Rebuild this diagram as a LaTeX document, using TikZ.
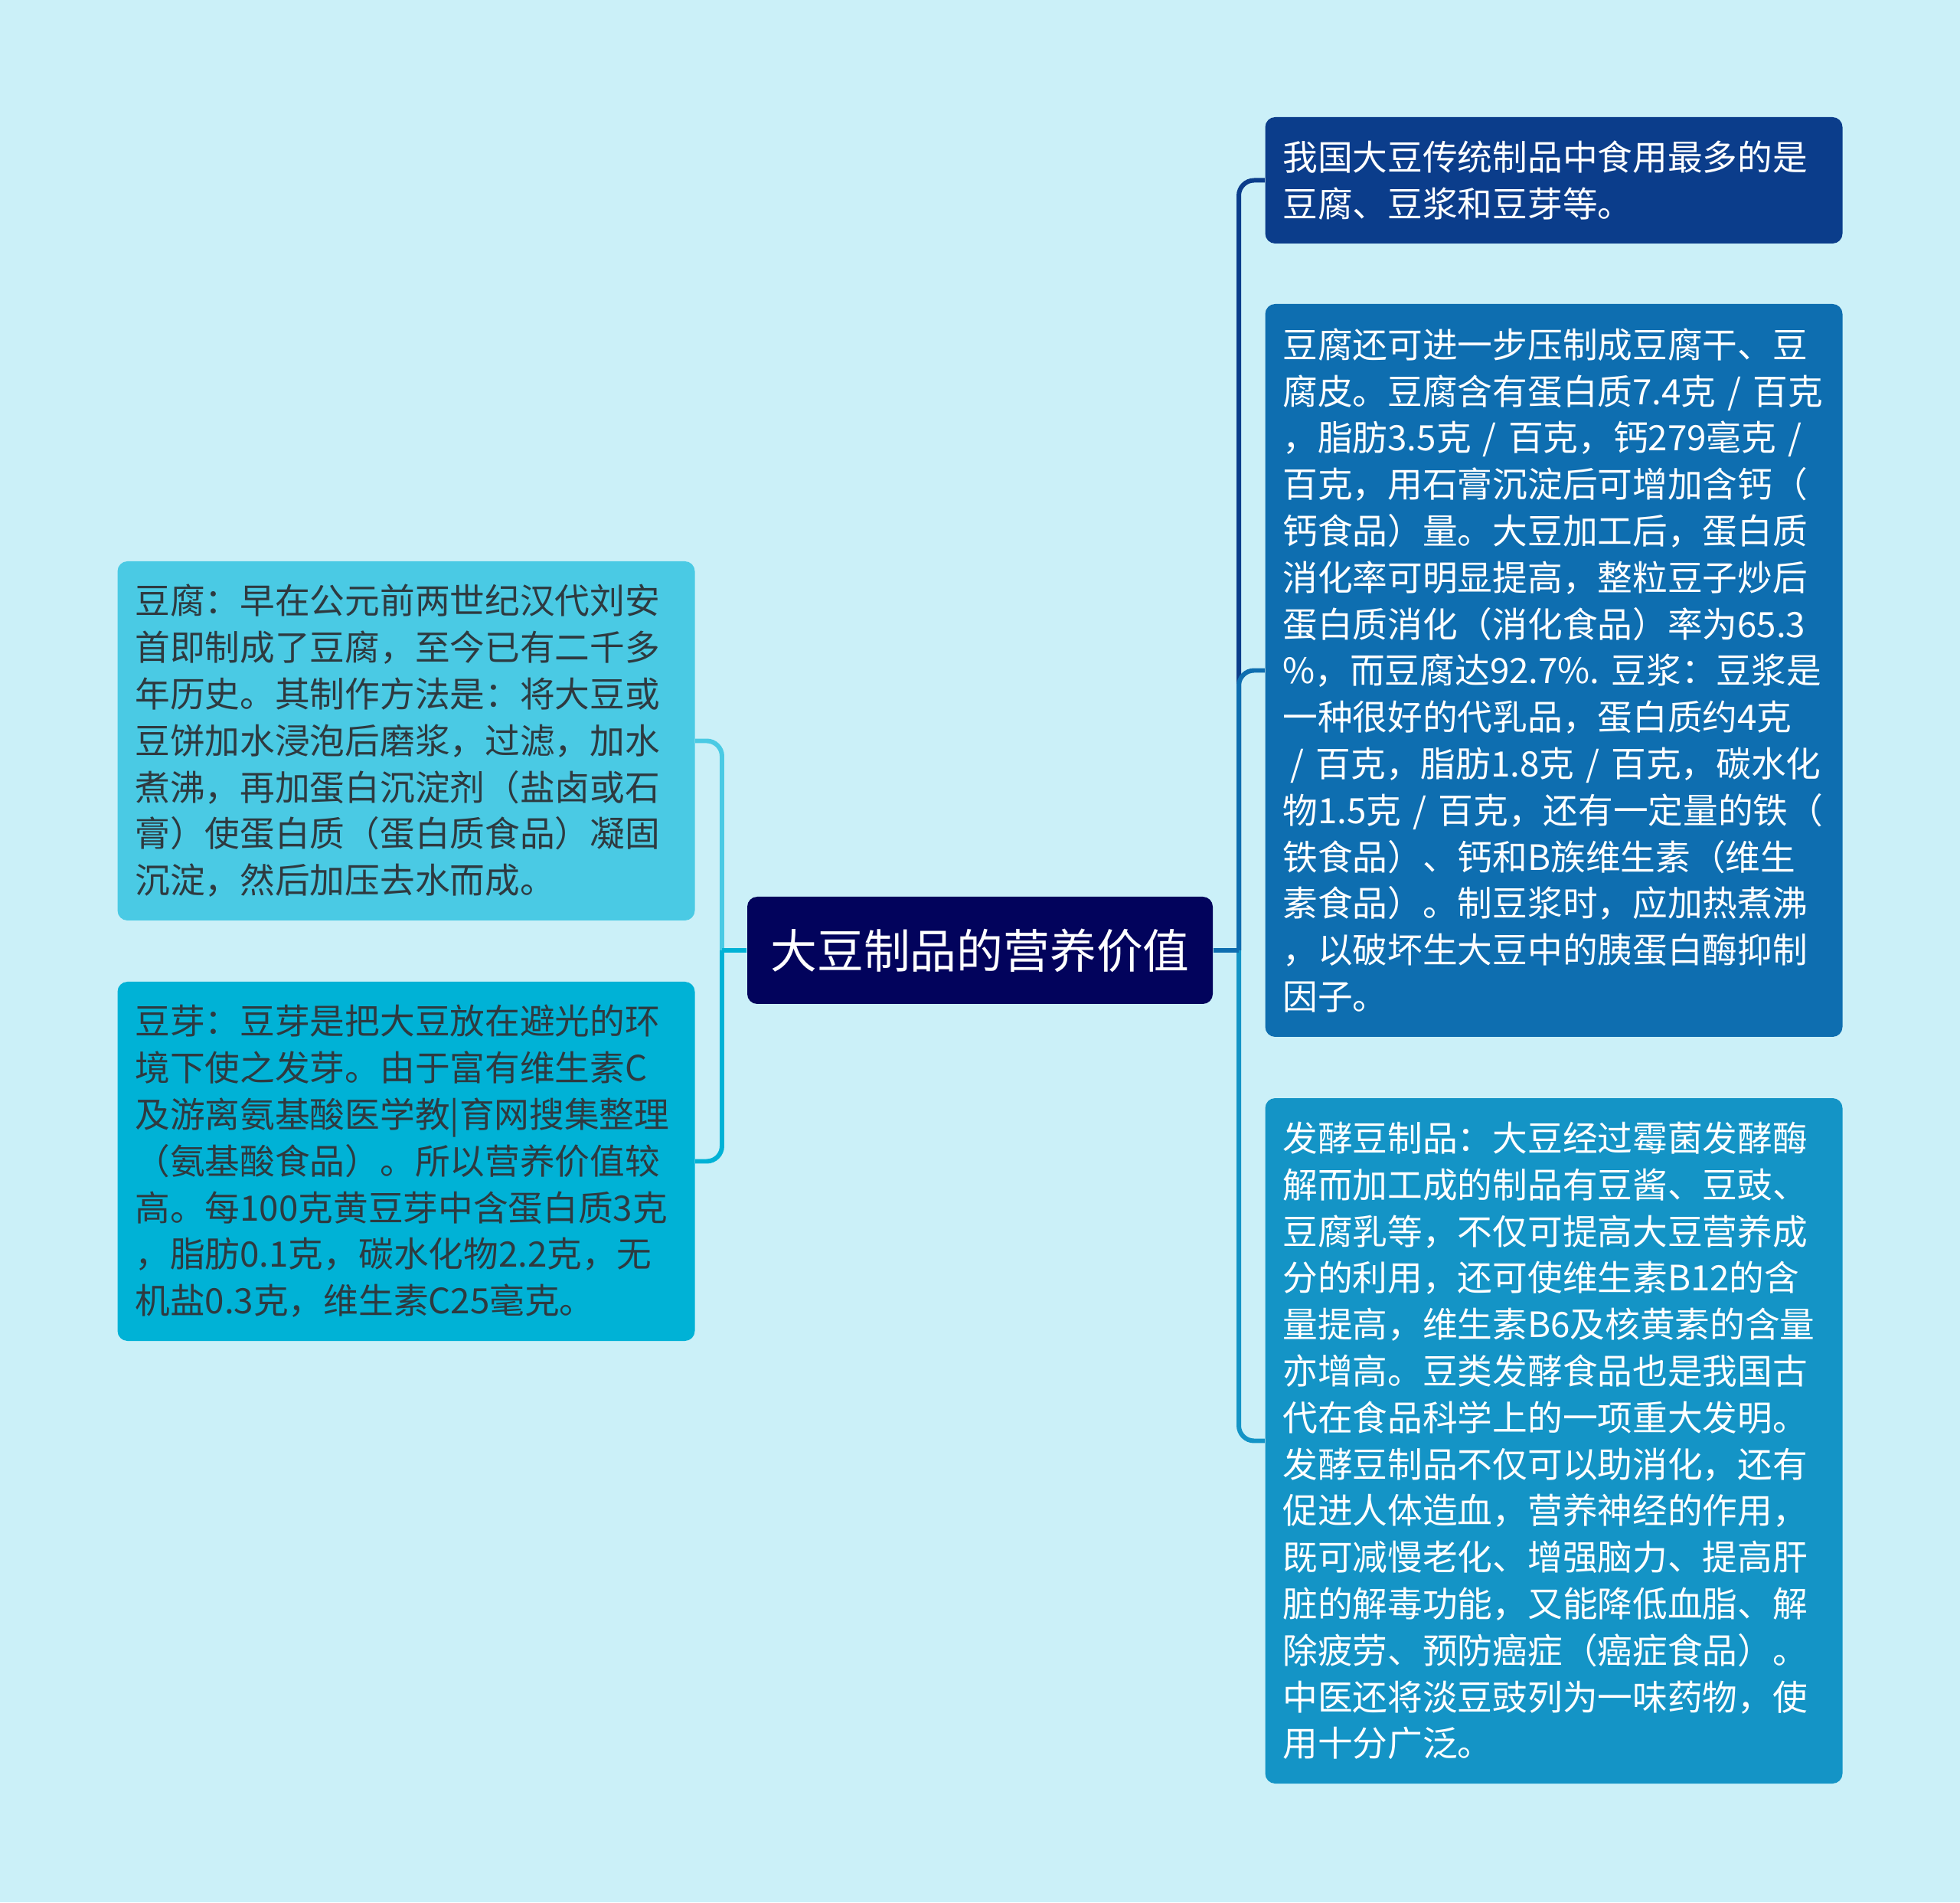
\documentclass[tikz,border=0pt]{standalone}
\usepackage{fontspec}
\setmainfont{Noto Sans CJK SC}
\usepackage{tikz}
\definecolor{bgcol}{HTML}{CBF0F8}
\definecolor{rootcol}{HTML}{02035C}
\definecolor{r1col}{HTML}{0B3D8B}
\definecolor{r2col}{HTML}{0E6EB0}
\definecolor{r3col}{HTML}{1494C6}
\definecolor{l1col}{HTML}{4ACAE4}
\definecolor{l2col}{HTML}{00B2D6}
\definecolor{darktext}{HTML}{2E3A40}

\begin{document}
\begin{tikzpicture}[scale=1,
  box/.style={rounded corners=0.13cm, inner xsep=0.23cm, inner ysep=0cm,
    text width=7.08cm, align=left, font=\fontsize{13pt}{17.3pt}\selectfont},
  conn/.style={line width=1.7pt}]
% 背景
\fill [bgcol] (0,0) rectangle (25.6,24.84);
% 中心
\node [fill=rootcol, text=white, rounded corners=0.13cm, minimum width=6.08cm,
  minimum height=1.4cm, inner sep=0, font=\fontsize{17.3pt}{20pt}\selectfont]
  (root) at (12.80,12.43) {大豆制品的营养价值};
% 右侧
\node [box, fill=r1col, text=white, minimum height=1.65cm] (r1) at (20.295,22.485)
  {我国大豆传统制品中食用最多的是\\豆腐、豆浆和豆芽等。};
\node [box, fill=r2col, text=white, minimum height=9.57cm] (r2) at (20.295,16.085)
  {豆腐还可进一步压制成豆腐干、豆\\
   腐皮。豆腐含有蛋白质7.4克~/~百克\\
   ，脂肪3.5克~/~百克，钙279毫克~/\\
   百克，用石膏沉淀后可增加含钙（\\
   钙食品）量。大豆加工后，蛋白质\\
   消化率可明显提高，整粒豆子炒后\\
   蛋白质消化（消化食品）率为65.3\\
   \%，而豆腐达92.7\%.~豆浆：豆浆是\\
   一种很好的代乳品，蛋白质约4克\\
   \hspace*{0.1cm}/~百克，脂肪1.8克~/~百克，碳水化\\
   物1.5克~/~百克，还有一定量的铁（\\
   铁食品）、钙和B族维生素（维生\\
   素食品）。制豆浆时，应加热煮沸\\
   ，以破坏生大豆中的胰蛋白酶抑制\\
   因子。};
\node [box, fill=r3col, text=white, minimum height=8.95cm] (r3) at (20.295,6.025)
  {发酵豆制品：大豆经过霉菌发酵酶\\
   解而加工成的制品有豆酱、豆豉、\\
   豆腐乳等，不仅可提高大豆营养成\\
   分的利用，还可使维生素B12的含\\
   量提高，维生素B6及核黄素的含量\\
   亦增高。豆类发酵食品也是我国古\\
   代在食品科学上的一项重大发明。\\
   发酵豆制品不仅可以助消化，还有\\
   促进人体造血，营养神经的作用，\\
   既可减慢老化、增强脑力、提高肝\\
   脏的解毒功能，又能降低血脂、解\\
   除疲劳、预防癌症（癌症食品）。\\
   中医还将淡豆豉列为一味药物，使\\
   用十分广泛。};
% 左侧
\node [box, fill=l1col, text=darktext, minimum height=4.69cm] (l1) at (5.305,15.165)
  {豆腐：早在公元前两世纪汉代刘安\\
   首即制成了豆腐，至今已有二千多\\
   年历史。其制作方法是：将大豆或\\
   豆饼加水浸泡后磨浆，过滤，加水\\
   煮沸，再加蛋白沉淀剂（盐卤或石\\
   膏）使蛋白质（蛋白质食品）凝固\\
   沉淀，然后加压去水而成。};
\node [box, fill=l2col, text=darktext, minimum height=4.69cm] (l2) at (5.305,9.675)
  {豆芽：豆芽是把大豆放在避光的环\\
   境下使之发芽。由于富有维生素C\\
   及游离氨基酸医学教|育网搜集整理\\
   （氨基酸食品）。所以营养价值较\\
   高。每100克黄豆芽中含蛋白质3克\\
   ，脂肪0.1克，碳水化物2.2克，无\\
   机盐0.3克，维生素C25毫克。};
% 连线
\coordinate (busR) at (16.18,12.43);
\coordinate (busL) at (9.43,12.43);
\draw [conn, r3col, rounded corners=0.2cm] (busR) |- (r3.west);
\draw [conn, r1col, rounded corners=0.2cm] (busR) |- (r1.west);
\draw [conn, r2col, rounded corners=0.2cm] (busR) |- (r2.west);
\draw [conn, r2col] (root.east) -- (busR);
\draw [conn, l2col, rounded corners=0.2cm] (busL) |- (l2.east);
\draw [conn, l1col, rounded corners=0.2cm] (busL) |- (l1.east);
\draw [conn, l2col] (root.west) -- (busL);
\end{tikzpicture}
\end{document}
